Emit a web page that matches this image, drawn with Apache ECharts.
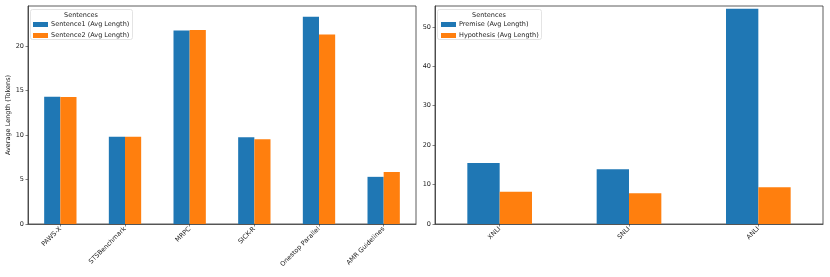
<!DOCTYPE html>
<html><head><meta charset="utf-8">
<script src="https://cdn.jsdelivr.net/npm/echarts@6/dist/echarts.min.js"></script>
<style>html,body{margin:0;padding:0;background:#fff}#c{width:830px;height:277px}</style>
</head><body><div id="c"></div>
<script>
const leftCategories = ['PAWS-X','STSBenchmark','MRPC','SICK-R','Onestop Parallel','AMR Guidelines'];
const sentence1 = [14.3, 9.8, 21.75, 9.74, 23.3, 5.3];
const sentence2 = [14.28, 9.8, 21.8, 9.52, 21.3, 5.83];
const rightCategories = ['XNLI','SNLI','ANLI'];
const premise = [15.5, 13.9, 54.6];
const hypothesis = [8.15, 7.8, 9.35];
const leftTicks = [0, 5, 10, 15, 20];
const rightTicks = [0, 10, 20, 30, 40, 50];

const FONT = 'DejaVu Sans';
const BLUE = '#1f77b4', ORANGE = '#ff7f0e';
const chart = echarts.init(document.getElementById('c'), null, {renderer: 'canvas'});

function yAxis(idx, max, ticks, name) {
  return {
    type: 'value', gridIndex: idx, min: 0, max: max,
    name: name, nameLocation: 'middle', nameGap: 15, nameRotate: 90,
    nameTextStyle: {fontFamily: FONT, fontSize: 6.5, color: '#222'},
    axisLine: {show: true, lineStyle: {color: '#333', width: 0.8}},
    axisTick: {show: true, length: 2.5, customValues: ticks, lineStyle: {color: '#333', width: 0.6}},
    axisLabel: {customValues: ticks, fontFamily: FONT, fontSize: 6.5, color: '#222', margin: 4},
    splitLine: {show: false}
  };
}
function xAxis(idx, cats) {
  return {
    type: 'category', gridIndex: idx, data: cats,
    axisLine: {show: true, lineStyle: {color: '#555', width: 1}},
    axisTick: {show: true, alignWithLabel: true, length: 2.5, lineStyle: {color: '#333', width: 0.6}},
    axisLabel: {rotate: 45, fontFamily: FONT, fontSize: 6.5, color: '#222', margin: 4, interval: 0}
  };
}
function bar(name, data, color, idx) {
  return {
    type: 'bar', name: name, data: data, xAxisIndex: idx, yAxisIndex: idx,
    barWidth: '25%', barGap: '0%',
    itemStyle: {color: color}
  };
}

chart.setOption({
  animation: false,
  textStyle: {fontFamily: FONT},
  grid: [
    {left: 28, right: 414, top: 6, bottom: 53, show: true, borderColor: '#333', borderWidth: 0.8, backgroundColor: 'transparent'},
    {left: 435, right: 7, top: 6, bottom: 53, show: true, borderColor: '#333', borderWidth: 0.8, backgroundColor: 'transparent'}
  ],
  xAxis: [xAxis(0, leftCategories), xAxis(1, rightCategories)],
  yAxis: [yAxis(0, 24.5, leftTicks, 'Average Length (Tokens)'), yAxis(1, 55.3, rightTicks, '')],
  title: [
    {text: 'Sentences', left: 81, top: 12, textAlign: 'center', textStyle: {fontFamily: FONT, fontSize: 6.5, fontWeight: 'normal', color: '#222'}, padding: 0},
    {text: 'Sentences', left: 489, top: 12, textAlign: 'center', textStyle: {fontFamily: FONT, fontSize: 6.5, fontWeight: 'normal', color: '#222'}, padding: 0}
  ],
  graphic: [
    {type: 'rect', shape: {x: 30.5, y: 9.5, width: 102, height: 30, r: 2}, style: {fill: 'rgba(255,255,255,0.8)', stroke: '#ddd', lineWidth: 0.8}, z: 0},
    {type: 'rect', shape: {x: 437.5, y: 9.5, width: 104, height: 30, r: 2}, style: {fill: 'rgba(255,255,255,0.8)', stroke: '#ddd', lineWidth: 0.8}, z: 0}
  ],
  legend: [
    {data: ['Sentence1 (Avg Length)', 'Sentence2 (Avg Length)'], orient: 'vertical', left: 33, top: 21, itemWidth: 15, itemHeight: 5, itemGap: 4, padding: 0, icon: 'rect',
     textStyle: {fontFamily: FONT, fontSize: 6.5, color: '#222', padding: [0,0,0,-2]}},
    {data: ['Premise (Avg Length)', 'Hypothesis (Avg Length)'], orient: 'vertical', left: 441, top: 21, itemWidth: 15, itemHeight: 5, itemGap: 4, padding: 0, icon: 'rect',
     textStyle: {fontFamily: FONT, fontSize: 6.5, color: '#222', padding: [0,0,0,-2]}}
  ],
  series: [
    bar('Sentence1 (Avg Length)', sentence1, BLUE, 0),
    bar('Sentence2 (Avg Length)', sentence2, ORANGE, 0),
    bar('Premise (Avg Length)', premise, BLUE, 1),
    bar('Hypothesis (Avg Length)', hypothesis, ORANGE, 1)
  ]
});
</script></body></html>
